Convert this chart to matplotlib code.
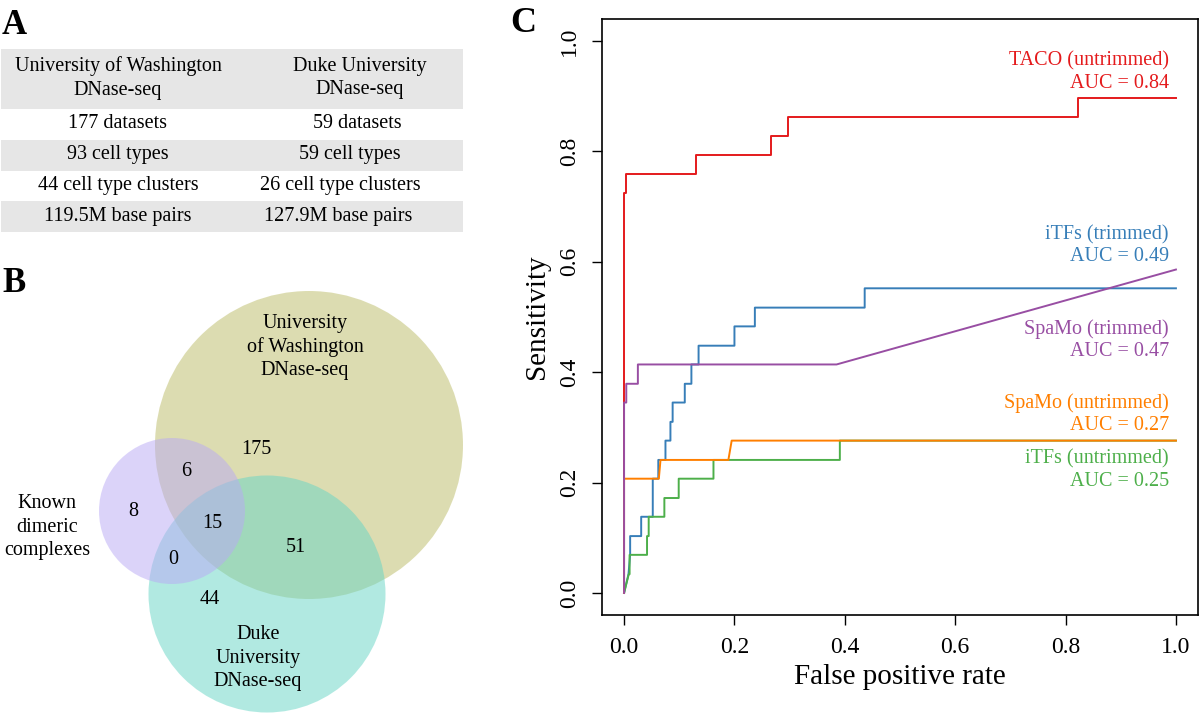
import matplotlib
matplotlib.use("Agg")
import matplotlib.pyplot as plt
import matplotlib.patches as patches

plt.rcParams['font.family'] = ['Liberation Serif', 'DejaVu Serif']

# ---- Panel A: table ----
table_header = ["University of Washington\nDNase-seq", "Duke University\nDNase-seq"]
table_rows = [
    ["177 datasets", "59 datasets"],
    ["93 cell types", "59 cell types"],
    ["44 cell type clusters", "26 cell type clusters"],
    ["119.5M base pairs", "127.9M base pairs"],
]

# ---- Panel B: Venn counts ----
venn_sets = ["Known\ndimeric\ncomplexes", "University\nof Washington\nDNase-seq", "Duke\nUniversity\nDNase-seq"]
venn_counts = {"known": 8, "uw": 175, "duke": 44, "known_uw": 6,
               "known_duke": 0, "uw_duke": 51, "all": 15}

# ---- Panel C: ROC curves (false positive rate, sensitivity) ----
taco_fpr = [0.0, 0.0, 0.004, 0.004, 0.131, 0.131, 0.267, 0.267, 0.297, 0.297, 0.823, 0.823, 1.0]
taco_tpr = [0.0, 0.724, 0.724, 0.759, 0.759, 0.793, 0.793, 0.828, 0.828, 0.862, 0.862, 0.897, 0.897]

itfs_tr_fpr = [0.0, 0.008, 0.011, 0.011, 0.031, 0.031, 0.052, 0.052, 0.062, 0.062,
               0.075, 0.075, 0.084, 0.084, 0.088, 0.088, 0.110, 0.110, 0.122, 0.122,
               0.135, 0.135, 0.2, 0.2, 0.237, 0.237, 0.436, 0.436, 1.0]
itfs_tr_tpr = [0.0, 0.034, 0.069, 0.103, 0.103, 0.138, 0.138, 0.207, 0.207, 0.241,
               0.241, 0.276, 0.276, 0.310, 0.310, 0.345, 0.345, 0.379, 0.379, 0.414,
               0.414, 0.448, 0.448, 0.483, 0.483, 0.517, 0.517, 0.552, 0.552]

spamo_tr_fpr = [0.0, 0.0, 0.004, 0.004, 0.025, 0.025, 0.385, 1.0]
spamo_tr_tpr = [0.0, 0.345, 0.345, 0.379, 0.379, 0.414, 0.414, 0.586]

spamo_un_fpr = [0.0, 0.0, 0.063, 0.066, 0.189, 0.195, 1.0]
spamo_un_tpr = [0.0, 0.207, 0.207, 0.241, 0.241, 0.276, 0.276]

itfs_un_fpr = [0.0, 0.0085, 0.010, 0.010, 0.0416, 0.0416, 0.0446, 0.0446, 0.073, 0.073, 0.099,
               0.099, 0.162, 0.162, 0.391, 0.391, 1.0]
itfs_un_tpr = [0.0, 0.034, 0.034, 0.069, 0.069, 0.103, 0.103, 0.138, 0.138, 0.172, 0.172,
               0.207, 0.207, 0.241, 0.241, 0.276, 0.276]

roc_names = ["TACO (untrimmed)", "iTFs (trimmed)", "SpaMo (trimmed)", "SpaMo (untrimmed)", "iTFs (untrimmed)"]
roc_auc = [0.84, 0.49, 0.47, 0.27, 0.25]
roc_colors = ["#e41a1c", "#377eb8", "#984ea3", "#ff7f00", "#4daf4a"]


fig = plt.figure(figsize=(12, 7.13), dpi=100)

# overlay axes in pixel coordinates for panels A and B
ax0 = fig.add_axes([0, 0, 1, 1])
ax0.set_xlim(0, 1200)
ax0.set_ylim(713, 0)
ax0.axis('off')

ax0.text(2, 26, "A", fontsize=25, fontweight='bold', va='center', ha='left')
ax0.text(2, 284, "B", fontsize=25, fontweight='bold', va='center', ha='left')
ax0.text(510, 24, "C", fontsize=26, fontweight='bold', va='center', ha='left')

# table bands
band_edges = [(49, 109), (109, 140), (140, 171), (171, 201), (201, 232)]
for i, (y0, y1) in enumerate(band_edges):
    if i % 2 == 0:
        ax0.add_patch(patches.Rectangle((1, y0), 462, y1 - y0, facecolor='#e6e6e6', edgecolor='none'))

col1_x = 118
col2_x = [360, 357, 350, 340, 338]
ax0.text(col1_x, 78, table_header[0], fontsize=14.5, ha='center', va='center', linespacing=1.3)
ax0.text(col2_x[0], 78, table_header[1], fontsize=14.5, ha='center', va='center', linespacing=1.3)
row_y = [124, 155, 185.5, 216]
for i, (a, b) in enumerate(table_rows):
    ax0.text(col1_x, row_y[i], a, fontsize=14.5, ha='center', va='center')
    ax0.text(col2_x[i + 1], row_y[i], b, fontsize=14.5, ha='center', va='center')

# Venn circles: UW, Duke, Known (draw order matters for blending)
ax0.add_patch(patches.Circle((309, 445), 154, facecolor='#bbbb65', alpha=0.5, edgecolor='none'))
ax0.add_patch(patches.Circle((267, 594), 118.5, facecolor='#65d5c5', alpha=0.5, edgecolor='none'))
ax0.add_patch(patches.Circle((172, 511), 73, facecolor='#b9a9f5', alpha=0.5, edgecolor='none'))

ax0.text(47, 527, venn_sets[0], fontsize=14.5, ha='center', va='center', linespacing=1.3)
ax0.text(305, 347, venn_sets[1], fontsize=14.5, ha='center', va='center', linespacing=1.3)
ax0.text(258, 658, venn_sets[2], fontsize=14.5, ha='center', va='center', linespacing=1.3)

count_pos = {"known": (133, 511), "uw": (256, 449), "duke": (210, 600), "known_uw": (186, 471),
             "known_duke": (173, 559), "uw_duke": (296, 547), "all": (212, 523)}
for k, v in venn_counts.items():
    ax0.text(count_pos[k][0], count_pos[k][1], str(v), fontsize=14.5, ha='center', va='center')

# ---- Panel C ----
ax = fig.add_axes([602 / 1200, 98 / 713, 596 / 1200, 596 / 713])
curves = [(taco_fpr, taco_tpr), (itfs_tr_fpr, itfs_tr_tpr), (spamo_tr_fpr, spamo_tr_tpr),
          (spamo_un_fpr, spamo_un_tpr), (itfs_un_fpr, itfs_un_tpr)]
order = [0, 1, 4, 3, 2]
for i in order:
    ax.plot(curves[i][0], curves[i][1], color=roc_colors[i], lw=1.4)

label_y = [0.944, 0.629, 0.4575, 0.3233, 0.2227]
for i in range(5):
    ax.text(0.987, label_y[i], f"{roc_names[i]}\nAUC = {roc_auc[i]:.2f}", color=roc_colors[i],
            fontsize=14.5, ha='right', va='center', multialignment='right', linespacing=1.2)

ax.set_xlim(-0.04, 1.04)
ax.set_ylim(-0.04, 1.04)
ticks = [0.0, 0.2, 0.4, 0.6, 0.8, 1.0]
ax.set_xticks(ticks)
ax.set_yticks(ticks)
ax.set_xticklabels([f"{t:.1f}" for t in ticks])
ax.set_yticklabels([f"{t:.1f}" for t in ticks], rotation=90, va='center')
ax.tick_params(direction='out', length=7, width=1, labelsize=17, pad=9)
for s in ax.spines.values():
    s.set_linewidth(1.2)
ax.set_xlabel("False positive rate", fontsize=21, va='center')
ax.set_ylabel("Sensitivity", fontsize=21, va='center')
ax.xaxis.set_label_coords(0.5, -62 / 596)
ax.yaxis.set_label_coords(-65 / 596, 0.5)

fig.savefig("out.png", dpi=100)
